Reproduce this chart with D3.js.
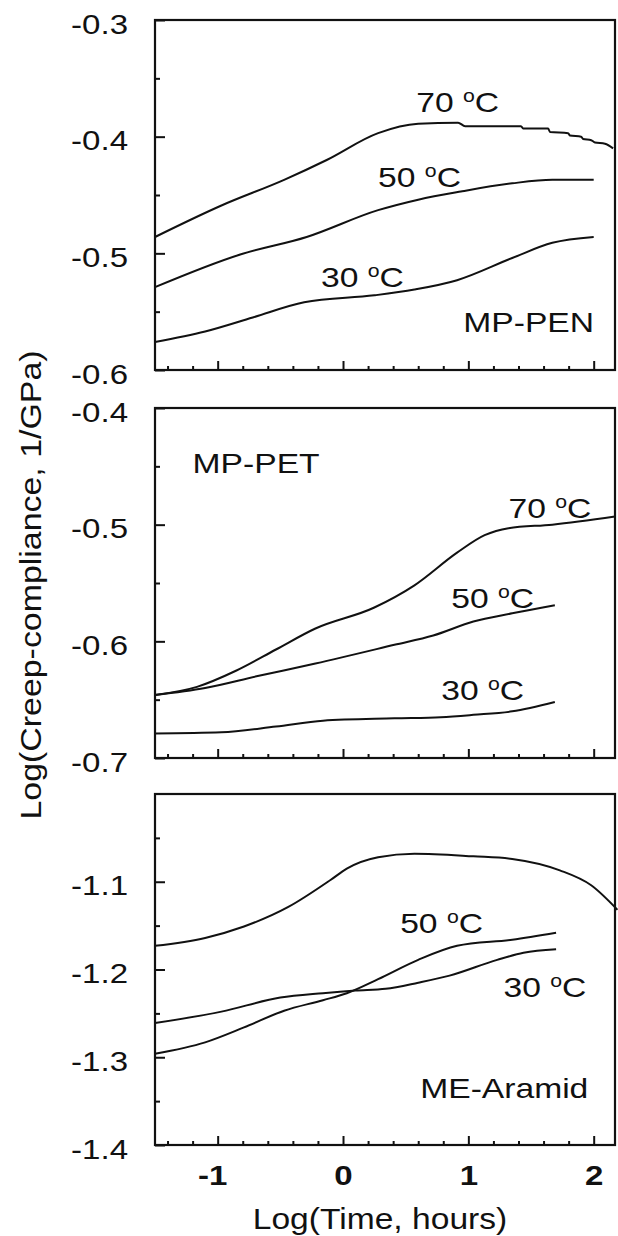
<!DOCTYPE html>
<html>
<head>
<meta charset="utf-8">
<script src="https://cdn.jsdelivr.net/npm/d3@7"></script>
<style>
  html, body { margin: 0; padding: 0; background: #fff; }
  svg { display: block; font-family: "Liberation Sans", Arial, sans-serif; }
</style>
</head>
<body>
<svg id="chart" width="618" height="1236"></svg>
<script>
// ---------------- DATA ----------------
// x = Log(Time, hours), y = Log(Creep-compliance, 1/GPa)
const penX70 = [-1.5, -0.97, -0.47, -0.13, 0.28, 0.60, 0.918, 0.974, 1.42, 1.437, 1.636, 1.652, 1.796, 1.81, 1.90, 1.915, 1.98, 2.01, 2.09, 2.155];
const penY70 = [-0.486, -0.459, -0.437, -0.420, -0.397, -0.389, -0.388, -0.391, -0.391, -0.393, -0.393, -0.396, -0.397, -0.399, -0.400, -0.402, -0.403, -0.405, -0.406, -0.410];
const penX50 = [-1.5, -0.82, -0.29, 0.28, 0.60, 0.94, 1.35, 1.67, 2.0];
const penY50 = [-0.529, -0.501, -0.486, -0.463, -0.454, -0.447, -0.440, -0.437, -0.437];
const penX30 = [-1.5, -1.10, -0.72, -0.31, 0.25, 0.57, 0.91, 1.35, 1.67, 2.0];
const penY30 = [-0.576, -0.567, -0.555, -0.542, -0.536, -0.531, -0.523, -0.504, -0.491, -0.486];

const petX70 = [-1.5, -1.165, -0.85, -0.535, -0.22, 0.25, 0.57, 0.91, 1.13, 1.32, 1.67, 2.17];
const petY70 = [-0.646, -0.639, -0.625, -0.607, -0.589, -0.571, -0.552, -0.524, -0.509, -0.503, -0.500, -0.493];
const petX50 = [-1.5, -1.10, -0.69, -0.22, 0.41, 0.72, 1.04, 1.35, 1.69];
const petY50 = [-0.646, -0.640, -0.630, -0.619, -0.603, -0.595, -0.583, -0.576, -0.569];
const petX30 = [-1.5, -0.97, -0.535, -0.16, 0.41, 0.78, 1.04, 1.35, 1.69];
const petY30 = [-0.679, -0.678, -0.673, -0.668, -0.666, -0.665, -0.663, -0.660, -0.652];

const araX70 = [-1.5, -1.10, -0.79, -0.44, -0.10, 0.03, 0.28, 0.57, 1.04, 1.35, 1.73, 1.98, 2.19];
const araY70 = [-1.173, -1.164, -1.151, -1.129, -1.098, -1.085, -1.072, -1.068, -1.071, -1.074, -1.087, -1.104, -1.132];
const araX50 = [-1.5, -1.10, -0.79, -0.47, -0.16, 0.03, 0.28, 0.60, 0.91, 1.35, 1.70];
const araY50 = [-1.296, -1.283, -1.266, -1.247, -1.235, -1.227, -1.211, -1.189, -1.173, -1.166, -1.158];
const araX30 = [-1.5, -0.97, -0.50, -0.16, 0.10, 0.34, 0.60, 0.85, 1.23, 1.44, 1.70];
const araY30 = [-1.261, -1.248, -1.232, -1.227, -1.224, -1.222, -1.215, -1.207, -1.189, -1.181, -1.177];

const xTickMajor = [-1, 0, 1, 2];
const xTickLabels = ["-1", "0", "1", "2"];
const penYTicks = [-0.3, -0.4, -0.5, -0.6];
const penYLabels = ["-0.3", "-0.4", "-0.5", "-0.6"];
const petYTicks = [-0.4, -0.5, -0.6, -0.7];
const petYLabels = ["-0.4", "-0.5", "-0.6", "-0.7"];
const araYTicks = [-1.1, -1.2, -1.3, -1.4];
const araYLabels = ["-1.1", "-1.2", "-1.3", "-1.4"];

const panelNames = ["MP-PEN", "MP-PET", "ME-Aramid"];
const tempLabels = ["70", "50", "30"];
const xTitle = "Log(Time, hours)";
const yTitle = "Log(Creep-compliance, 1/GPa)";

// ---------------- LAYOUT ----------------
const svg = d3.select("#chart");
const left = 155, right = 615;
const x = d3.scaleLinear().domain([-1.5, 2.17]).range([left, right]);
const STRETCH = 1.18;

const zip = (xs, ys) => xs.map((v, i) => [v, ys[i]]);

const panels = [
  { yDomain: [-0.6, -0.3], top: 20, bottom: 370, ticks: penYTicks, labels: penYLabels,
    minor: [-0.35, -0.45, -0.55],
    series: [zip(penX70, penY70), zip(penX50, penY50), zip(penX30, penY30)],
    ann: [
      { t: tempLabels[0], x: 0.584, y: -0.379 },
      { t: tempLabels[1], x: 0.28, y: -0.443 },
      { t: tempLabels[2], x: -0.176, y: -0.529 }
    ],
    name: { t: panelNames[0], x: 0.96, y: -0.567 } },
  { yDomain: [-0.7, -0.4], top: 408, bottom: 758, ticks: petYTicks, labels: petYLabels,
    minor: [-0.45, -0.55, -0.65],
    series: [zip(petX70, petY70), zip(petX50, petY50), zip(petX30, petY30)],
    ann: [
      { t: tempLabels[0], x: 1.32, y: -0.494 },
      { t: tempLabels[1], x: 0.864, y: -0.571 },
      { t: tempLabels[2], x: 0.784, y: -0.650 }
    ],
    name: { t: panelNames[1], x: -1.20, y: -0.456 } },
  { yDomain: [-1.4, -1.0], top: 794, bottom: 1145, ticks: araYTicks, labels: araYLabels,
    minor: [-1.05, -1.15, -1.25, -1.35],
    series: [zip(araX70, araY70), zip(araX50, araY50), zip(araX30, araY30)],
    ann: [
      { t: tempLabels[1], x: 0.456, y: -1.158 },
      { t: tempLabels[2], x: 1.28, y: -1.231 }
    ],
    name: { t: panelNames[2], x: 0.616, y: -1.346 } }
];

const xMinor = d3.range(-1.4, 2.17, 0.2).map(v => +v.toFixed(2)).filter(v => Math.abs(v - Math.round(v)) > 1e-6);

function tempText(g, t) {
  const txt = g.append("text")
    .attr("transform", `scale(${STRETCH},1)`)
    .attr("font-size", 28.5)
    .attr("fill", "#111");
  txt.append("tspan").text(t + " ");
  txt.append("tspan").attr("font-size", 18).attr("dy", -10).text("o");
  txt.append("tspan").attr("dy", 10).text("C");
}

panels.forEach((p, pi) => {
  const y = d3.scaleLinear().domain(p.yDomain).range([p.bottom, p.top]);
  const g = svg.append("g");

  // curves
  const line = d3.line().x(d => x(d[0])).y(d => y(d[1])).curve(d3.curveMonotoneX);
  p.series.forEach(s => {
    g.append("path").attr("d", line(s)).attr("fill", "none")
      .attr("stroke", "#111").attr("stroke-width", 2).attr("stroke-linejoin", "round");
  });

  // y axis (ticks inward)
  const yAxis = g.append("g").attr("transform", `translate(${left},0)`)
    .call(d3.axisLeft(y).tickValues(p.ticks).tickSizeInner(-10).tickSizeOuter(0)
      .tickFormat((d, i) => p.labels[i]));
  yAxis.select(".domain").remove();
  yAxis.selectAll(".tick line").attr("stroke", "#111").attr("stroke-width", 2);
  yAxis.selectAll(".tick text")
    .attr("x", 0).attr("dy", null)
    .attr("transform", `translate(-27,13) scale(${STRETCH},1)`)
    .attr("text-anchor", "end")
    .attr("font-size", 28)
    .attr("font-family", "Liberation Sans, Arial, sans-serif")
    .attr("fill", "#111");
  const yMinorAx = g.append("g").attr("transform", `translate(${left},0)`)
    .call(d3.axisLeft(y).tickValues(p.minor).tickSizeInner(-5).tickSizeOuter(0).tickFormat(""));
  yMinorAx.select(".domain").remove();
  yMinorAx.selectAll(".tick line").attr("stroke", "#111").attr("stroke-width", 2);

  // x axis ticks (inward)
  const isLast = pi === panels.length - 1;
  const xAxis = g.append("g").attr("transform", `translate(0,${p.bottom})`)
    .call(d3.axisBottom(x).tickValues(xTickMajor).tickSizeInner(-9).tickSizeOuter(0)
      .tickFormat((d, i) => isLast ? xTickLabels[i] : ""));
  xAxis.select(".domain").remove();
  xAxis.selectAll(".tick line").attr("stroke", "#111").attr("stroke-width", 2);
  if (isLast) {
    xAxis.selectAll(".tick text")
      .attr("y", 0).attr("dy", null)
      .attr("transform", `translate(${0.556 * 28 * STRETCH / 2},40) scale(${STRETCH},1)`)
      .attr("text-anchor", "end")
      .attr("font-size", 28)
      .attr("font-weight", "bold")
      .attr("font-family", "Liberation Sans, Arial, sans-serif")
      .attr("fill", "#111");
  }
  const xMinorAx = g.append("g").attr("transform", `translate(0,${p.bottom})`)
    .call(d3.axisBottom(x).tickValues(xMinor).tickSizeInner(-4).tickSizeOuter(0).tickFormat(""));
  xMinorAx.select(".domain").remove();
  xMinorAx.selectAll(".tick line").attr("stroke", "#111").attr("stroke-width", 2);

  // frame
  g.append("rect").attr("x", left).attr("y", p.top)
    .attr("width", right - left).attr("height", p.bottom - p.top)
    .attr("fill", "none").attr("stroke", "#111").attr("stroke-width", 2.2);

  // annotations
  p.ann.forEach(a => {
    const ag = g.append("g").attr("transform", `translate(${x(a.x)},${y(a.y)})`);
    tempText(ag, a.t);
  });
  g.append("g").attr("transform", `translate(${x(p.name.x)},${y(p.name.y)})`)
    .append("text").attr("transform", `scale(${STRETCH},1)`)
    .attr("font-size", 28.5).attr("fill", "#111").text(p.name.t);
});

// axis titles
svg.append("g").attr("transform", "translate(380,1229)")
  .append("text").attr("transform", "scale(1.12,1)")
  .attr("text-anchor", "middle").attr("font-size", 30).attr("fill", "#111").text(xTitle);
svg.append("g").attr("transform", "translate(41,585) rotate(-90)")
  .append("text").attr("transform", "scale(1.13,1)")
  .attr("text-anchor", "middle").attr("font-size", 30).attr("fill", "#111").text(yTitle);
</script>
</body>
</html>
